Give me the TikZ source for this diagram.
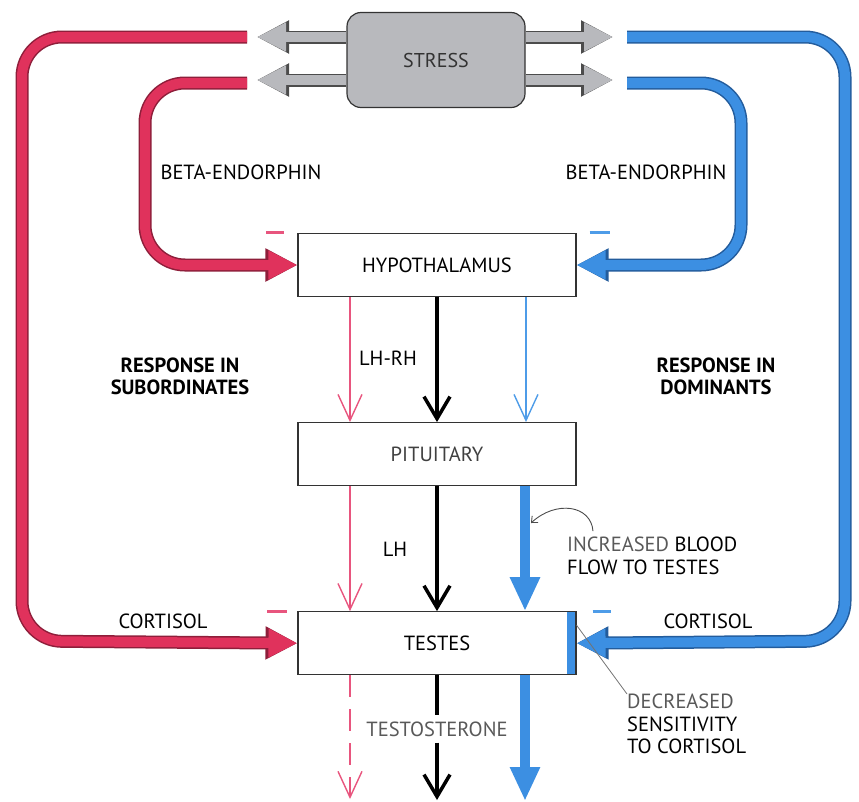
\documentclass[tikz,border=0pt]{standalone}
\usepackage{fontspec}
\setmainfont{PT Sans}
\usetikzlibrary{arrows.meta,positioning,calc}
\definecolor{sub-red}{HTML}{E0325C}
\definecolor{sub-red-dk}{HTML}{8E1E3A}
\definecolor{sub-pink}{HTML}{E8557E}
\definecolor{dom-blue}{HTML}{3C8FE2}
\definecolor{dom-blue-dk}{HTML}{235C9C}
\definecolor{dom-sky}{HTML}{4E9CE8}
\definecolor{stress-gray}{HTML}{B8B9BD}

\begin{document}
\begin{tikzpicture}[x=1pt, y=-1pt, font=\fontsize{20.5}{22.5}\selectfont,
    box/.style={draw=black!80, line width=1.1pt, fill=white, minimum width=278pt, minimum height=63pt},
    fat/.style 2 args={draw=#1, line width=10pt, rounded corners=40pt, -{Triangle[length=29pt,width=27pt]},
      preaction={draw=#2, line width=13pt, -{Triangle[length=32pt,width=31pt]}}},
    hormone/.style={draw=black, line width=3.5pt, -{Straight Barb[length=22pt,width=26pt]}},
    thinred/.style={draw=sub-pink, line width=1.4pt, -{Straight Barb[length=26pt,width=24pt]}},
    thinblue/.style={draw=dom-sky, line width=1.4pt, -{Straight Barb[length=26pt,width=24pt]}},
    flow/.style={draw=dom-blue, line width=10pt, -{Triangle[length=34pt,width=28pt]}},
    minus/.style={line width=3pt},
    lbl/.style={inner sep=0pt, align=center}]
  \useasboundingbox (0,0) rectangle (859,801);

  % boxes
  \node[draw=black!80, line width=1.2pt, fill=stress-gray, rounded corners=14pt,
        minimum width=178pt, minimum height=95pt, text=black!80, font=\fontsize{20}{22}\selectfont] (stress) at (436,60) {STRESS};
  \node[box] (hyp) at (437,265) {HYPOTHALAMUS};
  \node[box, below=125pt of hyp, text=black!75] (pit) {PITUITARY};
  \node[box, below=125pt of pit, path picture={\fill[dom-blue]
        ([xshift=-9pt]path picture bounding box.north east) rectangle (path picture bounding box.south east);}] (tes) {TESTES};

  % ends of the loops near STRESS
  \coordinate (sub1) at (247,37);  \coordinate (sub2) at (247,83);
  \coordinate (dom1) at (627,37);  \coordinate (dom2) at (627,83);
  \coordinate (gl1) at (257,37);   \coordinate (gl2) at (257,80);
  \coordinate (gr1) at (613,37);   \coordinate (gr2) at (613,80);

  % stress outputs
  \draw[fat={stress-gray}{black!70}] (stress.west |- gl1) -- (gl1);
  \draw[fat={stress-gray}{black!70}] (stress.west |- gl2) -- (gl2);
  \draw[fat={stress-gray}{black!70}] (stress.east |- gr1) -- (gr1);
  \draw[fat={stress-gray}{black!70}] (stress.east |- gr2) -- (gr2);

  % subordinates
  \draw[fat={sub-red}{sub-red-dk}] (sub1) -- (22,37) -- (22,641) -- (tes.west);
  \draw[fat={sub-red}{sub-red-dk}] (sub2) -- (145,83) -- (145,265) -- (hyp.west);
  % dominants
  \draw[fat={dom-blue}{dom-blue-dk}] (dom1) -- (845,37) -- (845,641) -- (tes.east);
  \draw[fat={dom-blue}{dom-blue-dk}] (dom2) -- (741,83) -- (741,265) -- (hyp.east);

  % inhibition marks
  \draw[minus, sub-pink] ([xshift=-31pt]hyp.north west) -- ([xshift=-13pt]hyp.north west);
  \draw[minus, dom-sky] ([xshift=13pt]hyp.north east) -- ([xshift=33pt]hyp.north east);
  \draw[minus, sub-pink] ([xshift=-30pt]tes.north west) -- ([xshift=-10pt]tes.north west);
  \draw[minus, dom-sky] ([xshift=16pt]tes.north east) -- ([xshift=34pt]tes.north east);

  % hormone chain
  \draw[hormone] (hyp) -- (pit);
  \draw[hormone] (pit) -- (tes);
  \draw[thinred] ([xshift=-87pt]hyp.south) -- ([xshift=-87pt]pit.north);
  \draw[thinred] ([xshift=-87pt]pit.south) -- ([xshift=-87pt]tes.north);
  \draw[thinblue] ([xshift=89pt]hyp.south) -- ([xshift=89pt]pit.north);
  \draw[flow] ([xshift=88pt]pit.south) -- ([xshift=88pt]tes.north);

  \node[lbl, text=black!65] (tst) at (437,729) {TESTOSTERONE};
  \coordinate (tout) at (437,800);
  \coordinate (rout) at (350,799);
  \coordinate (bout) at (525,801);
  \draw[black, line width=3.5pt] (tes) -- ([yshift=6pt]tst.north);
  \draw[hormone] ([yshift=-6pt]tst.south) -- (tout);
  \draw[thinred, dash pattern=on 22pt off 12pt] ([xshift=-87pt]tes.south) -- (rout);
  \draw[flow] ([xshift=88pt]tes.south) -- (bout);

  % labels
  \node[lbl] at (241,172) {BETA-ENDORPHIN};
  \node[lbl] at (646,172) {BETA-ENDORPHIN};
  \node[lbl] at (388,358) {LH-RH};
  \node[lbl] at (395,549) {LH};
  \node[lbl, font=\fontsize{20.5}{22}\selectfont\bfseries] at (180,376) {RESPONSE IN\\SUBORDINATES};
  \node[lbl, font=\fontsize{20.5}{22}\selectfont\bfseries] at (716,376) {RESPONSE IN\\DOMINANTS};
  \node[lbl] at (163,621) {CORTISOL};
  \node[lbl] at (708,621) {CORTISOL};
  \node[lbl, align=left, anchor=west] (incr) at (567,556) {{\color{black!65}INCREASED} BLOOD\\FLOW TO TESTES};
  \node[lbl, align=left, anchor=north west] (decr) at (627,694) {{\color{black!65}DECREASED}\\SENSITIVITY\\TO CORTISOL};

  % pointers
  \coordinate (vessel) at (531,523);
  \draw[black!70, line width=0.9pt, -{Straight Barb[length=5pt,width=9pt]}]
    ([shift={(26,-6)}]incr.north west) .. controls (591,505) and (556,500) .. (vessel);
  \draw[black!55, line width=0.8pt] ([yshift=18pt]tes.east) -- (decr.north west);
\end{tikzpicture}
\end{document}
